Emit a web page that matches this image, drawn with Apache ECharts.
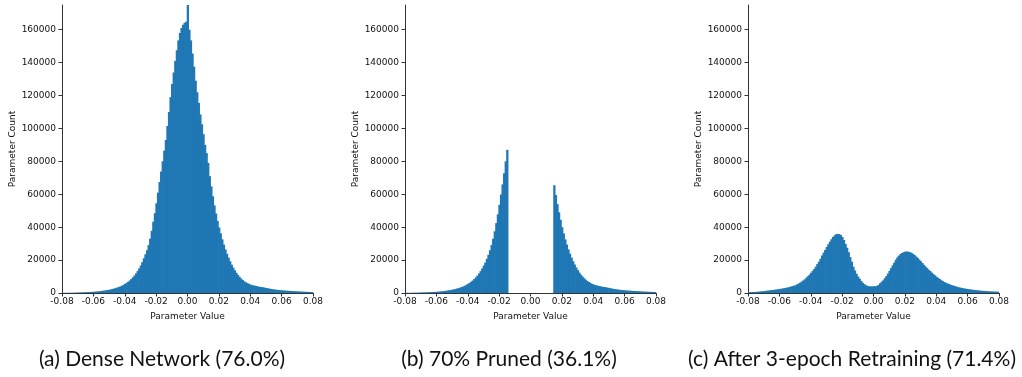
<!DOCTYPE html>
<html>
<head>
<meta charset="utf-8">
<title>Parameter value histograms</title>
<script src="https://cdn.jsdelivr.net/npm/echarts@6/dist/echarts.min.js"></script>
<style>
    html, body { margin: 0; padding: 0; background: #fff; }
    #chart { width: 1022px; height: 377px; }
</style>
</head>
<body>
<div id="chart"></div>
<script>
// histogram bins: centre of bin i is (binFirst + i) * binWidth
var binWidth = 0.001;
var binFirst = -80;

var xTicks = [-0.08, -0.06, -0.04, -0.02, 0.00, 0.02, 0.04, 0.06, 0.08];
var yTicks = [0, 20000, 40000, 60000, 80000, 100000, 120000, 140000, 160000];
var yMax = 175000;

var captions = ['(a) Dense Network (76.0%)', '(b) 70% Pruned (36.1%)', '(c) After 3-epoch Retraining (71.4%)'];

var denseCounts = [
    100, 100, 110, 115, 125, 140, 160, 180, 200, 240,
    280, 310, 350, 390, 430, 470, 520, 560, 610, 670,
    730, 800, 880, 980, 1100, 1230, 1370, 1510, 1670, 1830,
    2000, 2210, 2450, 2700, 2980, 3290, 3620, 4000, 4450, 4970,
    5550, 6170, 6850, 7600, 8500, 9500, 10600, 11900, 13300, 14900,
    16700, 18800, 21100, 23500, 26000, 29100, 33000, 37800, 43300, 48500,
    54500, 61000, 67500, 73800, 80000, 86500, 93000, 101500, 110000, 119000,
    127000, 134000, 141000, 147500, 153500, 158000, 161000, 163000, 164200, 164800,
    180000,
    160000, 153500, 145500, 137500, 129000, 122000, 115500, 108500, 102500, 96500,
    90000, 85000, 79000, 71000, 64800, 58800, 53200, 48300, 43800, 39800,
    36200, 32600, 29400, 26500, 23800, 21500, 19300, 17200, 15400, 13800,
    12300, 11000, 9800, 8800, 7900, 7100, 6500, 6000, 5500, 5100,
    4800, 4600, 4400, 4200, 3900, 3750, 3600, 3450, 3250, 3050,
    2850, 2650, 2480, 2320, 2170, 2030, 1920, 1820, 1720, 1640,
    1560, 1480, 1410, 1350, 1280, 1220, 1160, 1100, 1040, 980,
    920, 870, 820, 780, 740, 700, 660, 630, 600, 580
];

var prunedCounts = [
    100, 100, 110, 115, 125, 140, 160, 180, 200, 240,
    280, 310, 350, 390, 430, 470, 520, 560, 610, 670,
    730, 800, 880, 980, 1100, 1230, 1370, 1510, 1670, 1830,
    2000, 2210, 2450, 2700, 2980, 3290, 3620, 4000, 4450, 4970,
    5550, 6170, 6850, 7600, 8500, 9500, 10600, 11900, 13300, 14900,
    16700, 18500, 20800, 23200, 26000, 29200, 33000, 37500, 42500, 47800,
    53600, 59800, 66000, 72800, 80000, 87000, 0, 0, 0, 0,
    0, 0, 0, 0, 0, 0, 0, 0, 0, 0,
    0,
    0, 0, 0, 0, 0, 0, 0, 0, 0, 0,
    0, 0, 0, 0, 65500, 59500, 54000, 49000, 44500, 40000,
    36200, 32600, 29400, 26500, 23900, 21500, 19300, 17300, 15500, 13900,
    12400, 11100, 10000, 9000, 8100, 7300, 6700, 6100, 5600, 5200,
    4850, 4600, 4400, 4200, 3900, 3750, 3600, 3450, 3250, 3050,
    2850, 2650, 2480, 2320, 2170, 2030, 1920, 1820, 1720, 1640,
    1560, 1480, 1410, 1350, 1280, 1220, 1160, 1100, 1040, 980,
    920, 870, 820, 780, 740, 700, 660, 630, 600, 580
];

var retrainedCounts = [
    500, 520, 560, 600, 640, 700, 770, 850, 950, 1050,
    1150, 1270, 1400, 1520, 1650, 1770, 1880, 2000, 2150, 2300,
    2450, 2600, 2750, 2950, 3150, 3350, 3550, 3850, 4150, 4400,
    4700, 5200, 5700, 6300, 6900, 7600, 8300, 9300, 10200, 11100,
    12300, 13400, 14600, 16000, 17600, 19000, 20800, 22800, 24500, 26200,
    28000, 29600, 31200, 32700, 34000, 35000, 35700, 35900, 35800, 35200,
    34000, 32200, 29800, 27500, 24800, 21800, 19000, 16000, 13700, 11700,
    10000, 8700, 7300, 6200, 5400, 4700, 4300, 4100, 4000, 4000,
    4100,
    4100, 4300, 4900, 5900, 6800, 7700, 9000, 10300, 11800, 13400,
    15100, 16800, 18400, 20200, 21600, 22700, 23700, 24300, 24800, 25100,
    25200, 25100, 24800, 24400, 23800, 23100, 22200, 21300, 20300, 19300,
    18200, 17100, 16100, 15100, 14100, 13300, 12400, 11500, 10700, 9900,
    9200, 8500, 7800, 7200, 6700, 6200, 5800, 5400, 5000, 4700,
    4400, 4100, 3800, 3500, 3300, 3100, 2900, 2700, 2550, 2400,
    2250, 2120, 2000, 1880, 1770, 1660, 1550, 1450, 1350, 1270,
    1200, 1130, 1060, 1000, 950, 900, 860, 820, 790, 760
];

(function() {
    var chart = echarts.init(document.getElementById('chart'));
    var barColor = '#1f77b4';
    var axisColor = '#333';
    var tickFont = 'DejaVu Sans';
    var panels = [denseCounts, prunedCounts, retrainedCounts];
    var gridLeft = [62, 405, 748];
    var captionX = [162, 509, 852];

    function binData(counts) {
        var out = [];
        for (var i = 0; i < counts.length; i++) {
            out.push([(binFirst + i) * binWidth, counts[i]]);
        }
        return out;
    }

    // one rectangle per bin, edges through the axis scale
    // (a little overlap so neighbouring bins leave no white seam)
    function renderBin(params, api) {
        var x = api.value(0);
        var top = api.coord([x - binWidth / 2, api.value(1)]);
        var bottom = api.coord([x + binWidth / 2, 0]);
        return {
            type: 'rect',
            shape: { x: top[0], y: top[1], width: bottom[0] - top[0] + 0.7, height: bottom[1] - top[1] },
            style: { fill: barColor }
        };
    }

    var grids = [], xAxes = [], yAxes = [], series = [], graphics = [];
    panels.forEach(function(counts, i) {
        grids.push({ left: gridLeft[i], width: 251, top: 5, height: 288 });
        xAxes.push({
            type: 'value', gridIndex: i, min: -0.08, max: 0.08, interval: 0.02,
            splitLine: { show: false },
            axisLine: { onZero: false, lineStyle: { color: axisColor, width: 1 } },
            axisTick: { length: 3.5, lineStyle: { color: axisColor } },
            axisLabel: {
                margin: 4, fontSize: 9, color: '#111', fontFamily: tickFont,
                customValues: xTicks,
                formatter: function(v) { return v.toFixed(2); }
            },
            name: 'Parameter Value', nameLocation: 'middle', nameGap: 19,
            nameTextStyle: { fontSize: 9, color: '#111', fontFamily: tickFont }
        });
        yAxes.push({
            type: 'value', gridIndex: i, min: 0, max: yMax,
            splitLine: { show: false },
            axisLine: { show: true, onZero: false, lineStyle: { color: axisColor, width: 1 } },
            axisTick: { show: true, length: 3.5, customValues: yTicks, lineStyle: { color: axisColor } },
            axisLabel: {
                margin: 6, fontSize: 9, color: '#111', fontFamily: tickFont, customValues: yTicks,
                formatter: function(v) { return String(v); }
            },
            name: 'Parameter Count', nameLocation: 'middle', nameGap: 45,
            nameTextStyle: { fontSize: 9, color: '#111', fontFamily: tickFont }
        });
        series.push({
            type: 'custom', xAxisIndex: i, yAxisIndex: i, clip: true,
            renderItem: renderBin,
            data: binData(counts)
        });
        graphics.push({
            type: 'text', x: captionX[i], y: 359,
            style: { text: captions[i], align: 'center', verticalAlign: 'middle', font: '21px Lato', fill: '#111' }
        });
    });

    var option = {
        animation: false,
        grid: grids,
        xAxis: xAxes,
        yAxis: yAxes,
        series: series,
        graphic: graphics
    };

    chart.setOption(option);
}());
</script>
</body>
</html>
